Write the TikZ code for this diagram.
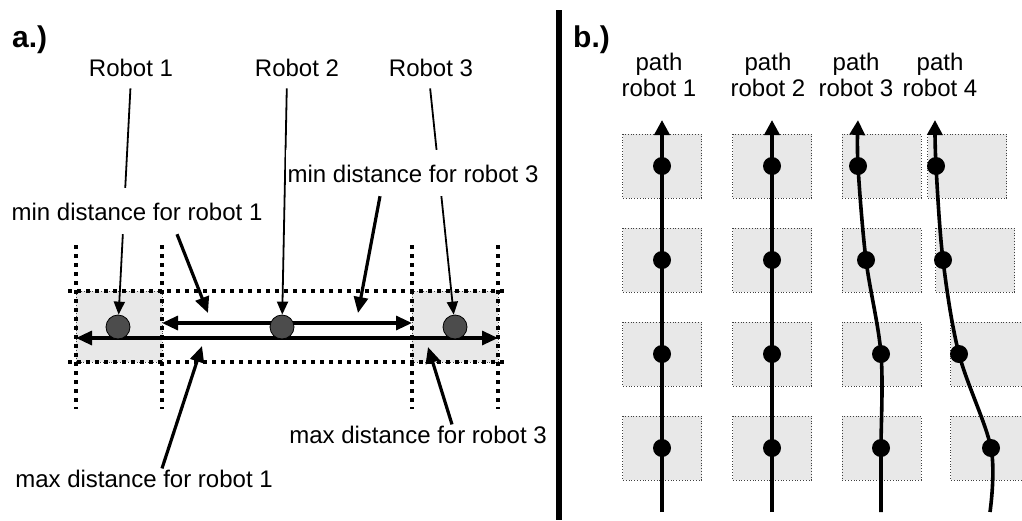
\documentclass[tikz,border=0pt]{standalone}
\usepackage{fontspec}
\setmainfont{Liberation Sans}
\usetikzlibrary{arrows.meta, calc}

\tikzset{
  lbl/.style={font=\fontsize{24}{26}\selectfont, inner sep=1pt},
  note/.style={lbl, fill=white, inner xsep=2pt, inner ysep=8pt, text height=24pt, text depth=6pt, anchor=base},
  panel/.style={font=\fontsize{30}{32}\selectfont\bfseries, inner sep=0pt, anchor=west},
  robot/.style={circle, draw=black, line width=0.8pt, fill=black!70, minimum size=24pt, inner sep=0pt},
  waypt/.style={circle, fill=black, minimum size=18pt, inner sep=0pt},
  cell/.style={draw=black!75, dotted, line width=0.8pt, fill=black!9},
  bound/.style={line width=3.5pt, dash pattern=on 3.5pt off 5.5pt},
  pointer/.style={line width=1.8pt, -{Triangle[length=13pt,width=11pt]}},
  callout/.style={line width=3.2pt, -{Triangle[length=16pt,width=14pt]}},
  span/.style={line width=3.2pt, {Triangle[length=16pt,width=14pt]}-{Triangle[length=16pt,width=14pt]}},
  track/.style={line width=3.6pt, -{Triangle[length=15pt,width=15pt]}},
}

\begin{document}
\begin{tikzpicture}[x=1pt, y=-1pt]
    \useasboundingbox (0,0) rectangle (1022,520);
    \clip (0,0) rectangle (1022,520);
    \pgfmathsetmacro{\bw}{79}
    \pgfmathsetmacro{\bh}{64}

    % a.)
    \draw[cell] (76,291) rectangle (162,362);
    \draw[cell] (412,291) rectangle (498,362);
    \foreach \x in {76,162,412,498} {
        \draw[bound] (\x,245) -- (\x,409);
    }
    \foreach \y in {291,362} {
        \draw[bound] (68,\y) -- (506,\y);
    }
    \coordinate (minl) at (162,323);
    \coordinate (minr) at (412,323);
    \coordinate (maxl) at (76,338);
    \coordinate (maxr) at (498,338);
    \draw[span] (minl) -- (minr);
    \draw[span] (maxl) -- (maxr);

    \node[panel] (pa) at (12,40) {a.)};
    \node[robot] (c1) at (118,327) {};
    \node[robot] (c2) at (282,327) {};
    \node[robot] (c3) at (455,327) {};
    \node[lbl, anchor=base] (rl1) at (131,76) {Robot 1};
    \node[lbl, anchor=base] (rl2) at (297,76) {Robot 2};
    \node[lbl, anchor=base] (rl3) at (431,76) {Robot 3};
    \foreach \i/\dx in {1/0, 2/-10, 3/-2} {
        \draw[pointer, shorten <=11pt] ([xshift=\dx pt]rl\i.south) -- (c\i);
    }

    \node[note] (mt1) at (137,220) {min distance for robot 1};
    \node[note] (mt3) at (413,182) {min distance for robot 3};
    \node[lbl, anchor=base] (xt1) at (144,487) {max distance for robot 1};
    \node[lbl, anchor=base] (xt3) at (418,443) {max distance for robot 3};
    \coordinate (tm1) at (208,313);
    \coordinate (tm3) at (358,313);
    \coordinate (tx1) at (202,346);
    \coordinate (tx3) at (428,347);
    \draw[callout] ([xshift=40pt]mt1.south) -- (tm1);
    \draw[callout] ([xshift=-33pt]mt3.south) -- (tm3);
    \draw[callout] ([xshift=18pt]xt1.north) -- (tx1);
    \draw[callout] ([xshift=34pt]xt3.north) -- (tx3);

    \draw[line width=6pt] (559,10) -- (559,520);

    % b.)
    \node[panel] (pb) at (573,40) {b.)};
    \foreach \cx/\cy in {662/166, 662/260, 662/354, 662/448,
                         772/166, 772/260, 772/354, 772/448,
                         881.5/166, 881.5/260, 881.5/354, 881.5/448,
                         967/166, 975/260, 990/354, 990/448} {
        \draw[cell] ({\cx-\bw/2},{\cy-\bh/2}) rectangle ({\cx+\bw/2},{\cy+\bh/2});
    }
    \foreach \t/\lx in {1/659, 2/768, 3/856, 4/940} {
        \node[lbl, align=center] (pl\t) at (\lx,75) {path\\robot \t};
    }
    \foreach \t/\xa/\xb/\xc/\xd in {1/662/662/662/662, 2/772/772/772/772,
                                    3/858/866/881/881, 4/936/943/959/991} {
        \node[waypt] (d\t1) at (\xa,166) {};
        \node[waypt] (d\t2) at (\xb,260) {};
        \node[waypt] (d\t3) at (\xc,354) {};
        \node[waypt] (d\t4) at (\xd,448) {};
    }
    \foreach \t/\xs/\xe in {1/662/662, 2/772/772, 3/881/858, 4/990/935} {
        \coordinate (s\t) at (\xs,512);
        \coordinate (e\t) at (\xe,120);
        \draw[track] plot[smooth, tension=0.55] coordinates
            {(s\t) (d\t4.center) (d\t3.center) (d\t2.center) (d\t1.center) (e\t)};
    }
\end{tikzpicture}
\end{document}
